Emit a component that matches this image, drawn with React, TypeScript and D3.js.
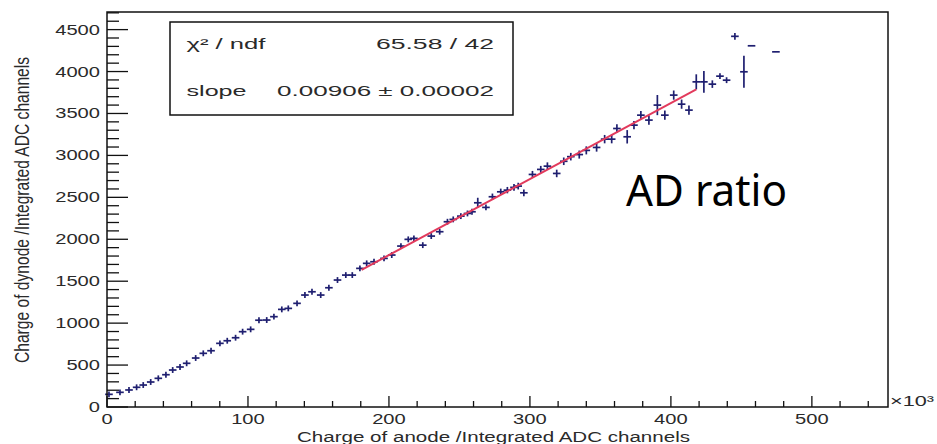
import React from "react";
import { scaleLinear, range, line } from "d3";

const W = 937;
const H = 444;

// anode charge (x10^3 ADC channels), dynode charge, dynode error
const anodeK = [
  1.4, 9.2, 15.6, 21, 25.7, 31, 36.4, 41.8, 46.6, 51.8, 56.5, 62.9, 68.3, 73.8, 80.1, 85.3, 91.2, 96.2,
  101.9, 107.8, 113.3, 118.4, 124, 128.6, 134.8, 140.4, 145.4, 151.6, 157.4, 163.5, 169.4, 174, 179.4,
  184.2, 189.4, 196.5, 202, 208.5, 213.7, 217.7, 224, 230, 236, 241.5, 245.6, 251, 255.7, 258.9, 263,
  268.8, 273.4, 279.3, 284, 288.7, 291.7, 295.7, 301.8, 307.7, 312.4, 319, 324, 329, 335, 340, 347.3,
  353, 358, 361.7, 369, 373.8, 378.7, 384.4, 390.4, 395.7, 402, 407.6, 412.8, 418, 423.4, 429.4, 434.8,
  439.5, 445.4, 451.8, 457.2, 474.5,
];
const dynode = [
  151, 175, 203, 235, 262, 298, 342, 385, 441, 477, 521, 584, 640, 671, 759, 790, 826, 898,
  926, 1035, 1037, 1077, 1164, 1176, 1236, 1335, 1374, 1335, 1422, 1514, 1573, 1573, 1653,
  1713, 1732, 1772, 1812, 1919, 1999, 2011, 1930, 2038, 2090, 2209, 2237, 2276, 2308, 2328, 2435,
  2380, 2507, 2566, 2586, 2619, 2634, 2554, 2773, 2833, 2872, 2785, 2930, 2985, 3010, 3060, 3095,
  3194, 3194, 3321, 3222, 3361, 3480, 3421, 3600, 3480, 3719, 3611, 3540, 3877, 3877, 3850, 3945,
  3897, 4420, 3997, 4307, 4235,
];
const dynodeErr = [
  10, 10, 10, 10, 10, 12, 12, 12, 12, 12, 12, 15, 15, 15, 15, 15, 15, 15,
  18, 18, 18, 18, 20, 20, 20, 20, 22, 22, 22, 22, 25, 25, 25,
  25, 28, 28, 28, 30, 30, 30, 35, 30, 32, 32, 32, 35, 35, 35, 60,
  35, 38, 38, 38, 40, 40, 40, 42, 42, 45, 45, 45, 45, 48, 48, 50,
  50, 50, 50, 80, 50, 50, 55, 120, 55, 55, 55, 55, 90, 130, 45, 25,
  20, 40, 190, 0, 0,
];
const anodeErrK = 2.7;

const yTicks = [0, 500, 1000, 1500, 2000, 2500, 3000, 3500, 4000, 4500];
const xTicks = [0, 100, 200, 300, 400, 500];
const fitSlope = 0.00906; // dynode per anode channel
const fitFromK = 180.6;
const fitToK = 418;
const statsNames = ["χ² / ndf", "slope"];
const statsValues = ["65.58 / 42", "0.00906 ± 0.00002"];

const left = 107, right = 888, top = 12, bottom = 407;
const ink = "#1f1f70";
const font = "'Liberation Sans', Arial, sans-serif";

export default function App() {
  const x = scaleLinear().domain([0, 554]).range([left, right]);
  const y = scaleLinear().domain([0, 4710]).range([bottom, top]);
  const fitLine = line<number>()
    .x((d) => x(d))
    .y((d) => y(fitSlope * d * 1000));

  return (
    <svg width={W} height={H} style={{ position: "absolute", left: 0, top: 0, background: "#fff" }}>
      {/* y ticks */}
      {range(0, 4701, 100).map((v) => (
        <line key={"ym" + v} x1={left} x2={left + (v % 500 === 0 ? 21 : 12)} y1={y(v)} y2={y(v)} stroke="#111" strokeWidth={1.3} />
      ))}
      {yTicks.map((v) => {
        const s = String(v);
        return (
          <text key={"yl" + v} x={100} y={y(v) + 5} textAnchor="end" fontFamily={font} fontSize={14} fill="#2a2a2a"
            textLength={s.length * 11.2} lengthAdjust="spacingAndGlyphs">{s}</text>
        );
      })}
      {/* x ticks */}
      {range(0, 541, 20).map((v) => (
        <line key={"xm" + v} x1={x(v)} x2={x(v)} y1={bottom} y2={bottom - (v % 100 === 0 ? 11 : 6)} stroke="#111" strokeWidth={1.3} />
      ))}
      {xTicks.map((v) => {
        const s = String(v);
        return (
          <text key={"xl" + v} x={x(v)} y={424} textAnchor="middle" fontFamily={font} fontSize={14} fill="#2a2a2a"
            textLength={s.length * 11.2} lengthAdjust="spacingAndGlyphs">{s}</text>
        );
      })}
      <text x={890} y={406} fontFamily={font} fontSize={14} fill="#2a2a2a" textLength={44} lengthAdjust="spacingAndGlyphs">×10³</text>

      {/* axis titles */}
      <text x={297} y={442} fontFamily={font} fontSize={14} fill="#2a2a2a" textLength={393} lengthAdjust="spacingAndGlyphs">
        Charge of anode /Integrated ADC channels
      </text>
      <text transform="translate(29,210) rotate(-90) scale(1,1.4)" textAnchor="middle" fontFamily={font} fontSize={14} fill="#2a2a2a"
        textLength={306} lengthAdjust="spacingAndGlyphs">
        Charge of dynode /Integrated ADC channels
      </text>

      {/* data with error bars */}
      {anodeK.map((a, i) => (
        <g key={"p" + i} stroke={ink} strokeWidth={1.7}>
          <line x1={x(a - anodeErrK)} x2={x(a + anodeErrK)} y1={y(dynode[i])} y2={y(dynode[i])} />
          {dynodeErr[i] > 0 && (
            <line x1={x(a)} x2={x(a)} y1={y(dynode[i] - Math.max(dynodeErr[i], 35))} y2={y(dynode[i] + Math.max(dynodeErr[i], 35))} />
          )}
        </g>
      ))}

      {/* fit */}
      <path d={fitLine([fitFromK, fitToK]) || ""} stroke="#e23a5c" strokeWidth={2} fill="none" />

      {/* frame */}
      <rect x={left} y={top} width={right - left} height={bottom - top} fill="none" stroke="#111" strokeWidth={1.5} />

      {/* stats box */}
      <rect x={170} y={22} width={343} height={93} fill="#fff" stroke="#111" strokeWidth={1.5} />
      <text x={186.5} y={49} fontFamily={font} fontSize={14} fill="#2a2a2a" textLength={79} lengthAdjust="spacingAndGlyphs">{statsNames[0]}</text>
      <text x={494} y={49} textAnchor="end" fontFamily={font} fontSize={14} fill="#2a2a2a" textLength={118} lengthAdjust="spacingAndGlyphs">{statsValues[0]}</text>
      <text x={186.5} y={96} fontFamily={font} fontSize={14} fill="#2a2a2a" textLength={60} lengthAdjust="spacingAndGlyphs">{statsNames[1]}</text>
      <text x={494} y={96} textAnchor="end" fontFamily={font} fontSize={14} fill="#2a2a2a" textLength={217} lengthAdjust="spacingAndGlyphs">{statsValues[1]}</text>

      <text x={626} y={206} fontFamily="'Noto Sans', 'Open Sans', sans-serif" fontSize={43} fill="#000" textLength={161} lengthAdjust="spacingAndGlyphs">AD ratio</text>
    </svg>
  );
}
